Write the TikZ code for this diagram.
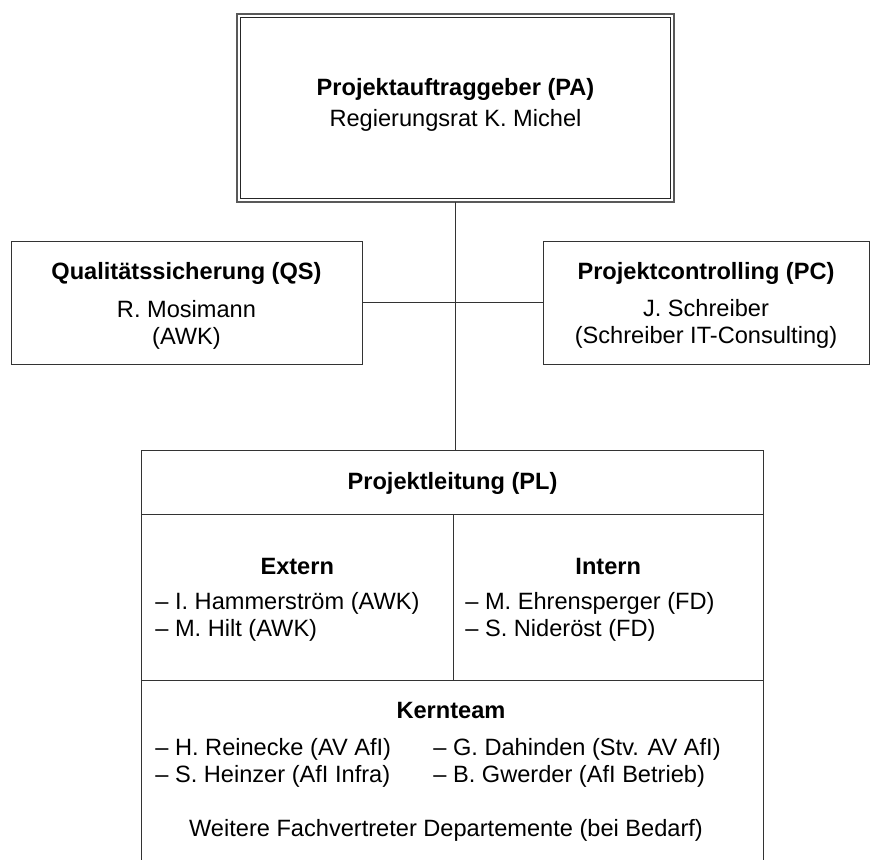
\documentclass[tikz,border=0pt]{standalone}
\usepackage{fontspec}
\setmainfont{Liberation Sans}
\usetikzlibrary{positioning}

\begin{document}
\begin{tikzpicture}[x=1pt, y=-1pt, line width=0.8pt,
    font=\fontsize{23.6}{27}\selectfont,
    box/.style = {draw=black!80, inner sep=0pt, outer sep=0pt},
    head/.style = {font=\fontsize{23.6}{27}\selectfont\bfseries},
    entry/.style = {anchor=west, align=left, inner sep=0pt}]
    \useasboundingbox (0,0) rectangle (870,860);

    % boxes
    \node[box, draw=black!65, line width=1.6pt, minimum width=437pt, minimum height=188pt] (pa) at (455.5,108) {};
    \draw[black!85] ([shift={(3.2pt,-3.2pt)}]pa.north west) rectangle ([shift={(-3.2pt,3.2pt)}]pa.south east);
    \node[align=center] (patext) at (455.5,105) {\textbf{Projektauftraggeber (PA)}\\[4pt]Regierungsrat K.~Michel};
    \node[box, minimum width=351pt, minimum height=123pt] (qs) at (186.5,302.5) {};
    \node[align=center] (qstext) at (186.5,306) {\textbf{Qualitätssicherung (QS)}\\[11pt]R. Mosimann\\(AWK)};
    \node[box, minimum width=326pt, minimum height=123pt] (pc) at (706,302.5) {};
    \node[align=center] (pctext) at (706,305) {\textbf{Projektcontrolling (PC)}\\[10pt]J. Schreiber\\(Schreiber IT-Consulting)};

    \node[box, minimum width=622pt, minimum height=64pt] (pl) at (452.5,482) {};
    \node[head] (pltext) at (452.5,483.5) {Projektleitung (PL)};
    \node[box, minimum width=311.5pt, minimum height=166pt, below right=0pt of pl.south west] (ext) {};
    \node[box, minimum width=310.5pt, minimum height=166pt, right=0pt of ext.east] (int) {};
    \node[inner sep=0pt, outer sep=0pt, minimum width=622pt, minimum height=180pt, below right=0pt of ext.south west] (kern) {};

    % texts
    \node[head] (exthead) at (297.25,566) {Extern};
    \node[entry] (extlist) at (155,617) {– I. Hammerström (AWK)\\– M. Hilt (AWK)};
    \node[head] (inthead) at (608.25,566) {Intern};
    \node[entry] (intlist) at (465,617) {– M. Ehrensperger (FD)\\– S. Nideröst (FD)};
    \node[head] (kernhead) at (451,710) {Kernteam};
    \node[entry] (kernleft) at (155,763) {– H. Reinecke (AV AfI)\\– S. Heinzer (AfI Infra)};
    \node[entry] (kernright) at (433,763) {– G. Dahinden (Stv. AV AfI)\\– B. Gwerder (AfI Betrieb)};
    \node (weitere) at (446,830) {Weitere Fachvertreter Departemente (bei Bedarf)};

    % lines
    \draw[black!80] (kern.north west) -- (kern.south west);
    \draw[black!80] (kern.north east) -- (kern.south east);
    \draw[black!80] (pa.south) -- (pa.south |- pl.north);
    \draw[black!80] (qs.east) -- (pc.west);
\end{tikzpicture}
\end{document}
